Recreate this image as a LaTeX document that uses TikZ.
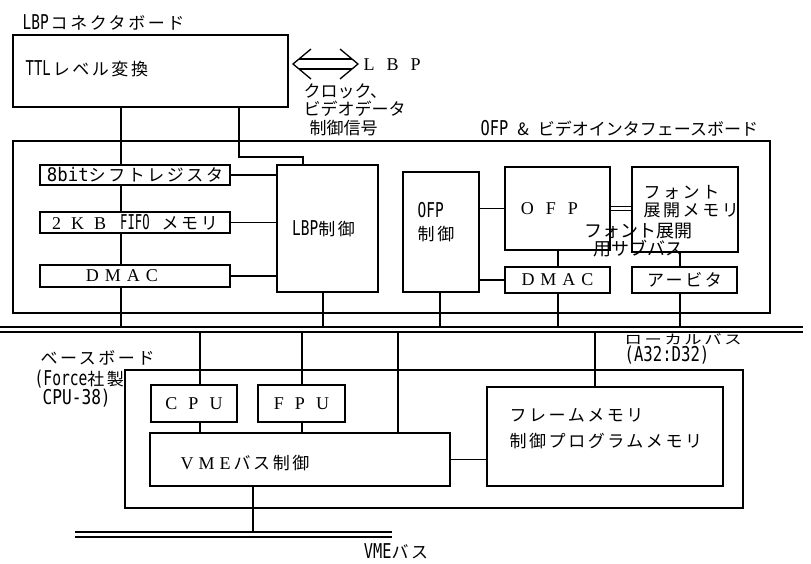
\documentclass[tikz,border=0pt]{standalone}
\usepackage{fontspec}
\usepackage{graphicx}
\setmainfont{Noto Sans CJK JP}[LetterSpace=15]
\newfontfamily\jpn{Noto Sans CJK JP}
\newfontfamily\serf{Liberation Serif}
\newfontfamily\monof{DejaVu Sans Mono}
\newcommand\fs{\fontsize{17}{21}\selectfont}
\newcommand\nar[2][0.88]{{\monof\scalebox{#1}[1.2]{#2}}}
\newcommand\wl[1]{{\serf\fontsize{18}{21}\selectfont #1}}
\newcommand\tail[1]{\hspace{#1}\mbox{}}
\newcommand\mkbox[6]{\node[boxst,minimum width={#4-#2},minimum height={#5-#3}] (#1) at ({(#2+#4)/2},{(#3+#5)/2}) {#6};}
\begin{document}
\begin{tikzpicture}[x=1pt,y=-1pt,line width=1.3pt,
  every node/.style={inner sep=0pt,font=\fs},
  boxst/.style={draw,line width=1.3pt},
  lbl/.style={anchor=west},
  plain/.style={anchor=west,font={\jpn\fontsize{17}{21}\selectfont}},
  busline/.style={line width=1.1pt}]
\useasboundingbox (0,0) rectangle (811,563);
% vertical line positions
\coordinate (cx1) at (121,0);
\coordinate (cx2) at (239,0);
\coordinate (cx3) at (303,0);
\coordinate (cx4) at (323,0);
\coordinate (cx5) at (440,0);
\coordinate (cx6) at (558,0);
\coordinate (cx7) at (680,0);
\coordinate (bx1) at (200,0);
\coordinate (bx2) at (302,0);
\coordinate (bx3) at (398,0);
\coordinate (bx4) at (595,0);
\coordinate (bx5) at (253,0);
\coordinate (jy) at (0,157);
% ---- LBP connector board
\node[lbl] (lbpb) at (22,22) {\nar[0.85]{LBP}\hspace{2pt}コネクタボード};
\mkbox{ttl}{13}{35}{288}{107}{}
\node[lbl] (ttlt) at (25,69) {\nar[0.82]{TTL}\hspace{2pt}レベル変換};
% hollow double arrow
\coordinate (al) at (293,64);
\coordinate (ar) at (358,64);
\draw (311,49) -- (al) -- (311,79);
\draw (340,49) -- (ar) -- (340,79);
\draw (299,59) -- (352,59);
\draw (299,69) -- (352,69);
\node[lbl] (lbpt) at (363,65) {\wl{L\hspace{12pt}B\hspace{12pt}P}};
\node[plain] (clk) at (303,91) {クロック、};
\node[plain] (vid) at (303,109) {ビデオデータ};
\node[plain] (ctl) at (309,128) {制御信号};
% ---- OFP & video interface board
\mkbox{board}{13}{141}{770}{313}{}
\node[plain] (boardt) at (480,128) {\nar[0.9]{OFP}\hspace{9pt}\&\hspace{9pt}ビデオインタフェースボード};
\mkbox{sr}{40}{165}{230}{185}{{\monof\scalebox{1.02}[1.1]{8bit}}シフトレジスタ}
\mkbox{fifo}{40}{212}{230}{233}{\wl{2\hspace{10pt}K\hspace{10pt}B}\hspace{14pt}\nar[0.72]{FIFO}\hspace{12pt}メモリ}
\mkbox{dmaca}{40}{265}{230}{287}{\wl{D\hspace{6pt}M\hspace{6pt}A\hspace{6pt}C}\tail{26pt}}
\mkbox{lbpc}{277}{165}{378}{292}{\nar[0.85]{LBP}制御\tail{8pt}}
\mkbox{ofpc}{403}{172}{479}{292}{}
\node[align=left] (ofpct) at (436,222) {\nar[0.85]{OFP}\\[2pt]制御};
\mkbox{ofp}{505}{167}{610}{250}{\wl{O\hspace{12pt}F\hspace{12pt}P}\tail{16pt}}
\mkbox{fmem}{632}{167}{738}{252}{}
\node[anchor=north west,align=left,font={\fontsize{17}{18}\selectfont}] (fmemt) at (643,185) {フォント\\展開メモリ};
\mkbox{dmacb}{505}{267}{610}{293}{\wl{D\hspace{6pt}M\hspace{6pt}A\hspace{6pt}C}}
\mkbox{arb}{632}{267}{737}{293}{アービタ}
\node[align=center,font={\jpn\fontsize{18}{15}\selectfont}] (subbus) at (638,240) {フォント展開\\用サブバス};
% connectors inside board
\draw (cx1 |- ttl.south) -- (cx1 |- sr.north);
\draw (cx2 |- ttl.south) -- (cx2 |- jy) -| (cx3 |- lbpc.north);
\draw (cx1 |- sr.south) -- (cx1 |- fifo.north);
\draw (cx1 |- fifo.south) -- (cx1 |- dmaca.north);
\draw (sr.east) -- (sr.east -| lbpc.west);
\draw (fifo.east) -- (fifo.east -| lbpc.west);
\draw (dmaca.east) -- (dmaca.east -| lbpc.west);
\draw (ofpc.east |- ofp.west) -- (ofp.west);
\draw (ofpc.east |- dmacb.west) -- (dmacb.west);
\draw[line width=0.9pt,double,double distance=2.6pt] (ofp.east) -- (ofp.east -| fmem.west);
\draw (cx6 |- ofp.south) -- (cx6 |- dmacb.north);
\draw (cx7 |- fmem.south) -- (cx7 |- arb.north);
% ---- local bus
\coordinate (lbua) at (0,327);
\coordinate (lbub) at (803,327);
\coordinate (lbla) at (0,332);
\coordinate (lblb) at (803,332);
\draw[busline] (lbua) -- (lbub);
\draw[busline] (lbla) -- (lblb);
\draw (cx1 |- dmaca.south) -- (cx1 |- lbua);
\draw (cx4 |- lbpc.south) -- (cx4 |- lbua);
\draw (cx5 |- ofpc.south) -- (cx5 |- lbua);
\draw (cx6 |- dmacb.south) -- (cx6 |- lbua);
\draw (cx7 |- arb.south) -- (cx7 |- lbua);
\node[anchor=north west,align=left,font={\fontsize{17}{13}\selectfont}] (lbt) at (624,333) {\scalebox{1.02}[0.78]{ローカルバス}\\\nar[0.92]{(A32:D32)}};
% ---- base board
\node[anchor=north west,align=left,font={\fontsize{17}{19}\selectfont}] (baset) at (34,350) {\hspace{6pt}ベースボード\\[2pt]\nar[0.86]{(Force}社製\\\hspace{8pt}\nar[0.95]{CPU-38)}};
\mkbox{base}{125}{370}{743}{508}{}
\mkbox{cpu}{151}{385}{237}{422}{\wl{C\hspace{11pt}P\hspace{11pt}U}}
\mkbox{fpu}{258}{385}{345}{422}{\wl{F\hspace{11pt}P\hspace{11pt}U}}
\mkbox{vme}{150}{433}{450}{486}{}
\node[lbl] (vmet) at (180,463) {\wl{V\hspace{5pt}M\hspace{5pt}E}\hspace{3pt}バス制御};
\mkbox{fm}{487}{387}{723}{486}{}
\node[anchor=north west,align=left,font={\fontsize{17}{26}\selectfont}] (fmt) at (509,408) {フレームメモリ\\制御プログラムメモリ};
\draw (bx1 |- lbla) -- (bx1 |- cpu.north);
\draw (bx2 |- lbla) -- (bx2 |- fpu.north);
\draw (bx3 |- lbla) -- (bx3 |- vme.north);
\draw (bx4 |- lbla) -- (bx4 |- fm.north);
\draw (bx1 |- cpu.south) -- (bx1 |- vme.north);
\draw (bx2 |- fpu.south) -- (bx2 |- vme.north);
\draw (vme.east) -- (vme.east -| fm.west);
% ---- VME bus
\coordinate (vbua) at (75,532);
\coordinate (vbub) at (392,532);
\coordinate (vbla) at (75,537);
\coordinate (vblb) at (392,537);
\draw[busline] (vbua) -- (vbub);
\draw[busline] (vbla) -- (vblb);
\draw (bx5 |- vme.south) -- (bx5 |- vbua);
\node (vmebt) at (396,551) {\nar[0.9]{VME}バス};
\end{tikzpicture}
\end{document}
